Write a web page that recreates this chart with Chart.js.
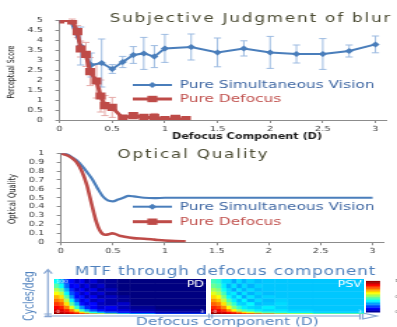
<!DOCTYPE html>
<html>
<head>
<meta charset="utf-8">
<title>Subjective Judgment of blur</title>
<script src="https://cdn.jsdelivr.net/npm/chart.js@4.4.0/dist/chart.umd.min.js"></script>
<style>
  html, body { margin: 0; padding: 0; background: #fff; }
  #page { position: relative; width: 397px; height: 327px; overflow: hidden; }
  canvas { position: absolute; }
  /* the maps in the original are smooth images, soften the cell edges a bit */
  #mtfPD, #mtfPSV { filter: blur(0.7px); }
</style>
</head>
<body>
<div id="page">
  <!-- the original figure is stretched sideways, so every canvas is drawn narrow and widened by css -->
  <canvas id="mtfAxes" width="284" height="72" style="left:0;top:255px;width:397px;height:72px"></canvas>
  <canvas id="blur" width="284" height="142" style="left:0;top:0;width:397px;height:142px"></canvas>
  <canvas id="quality" width="284" height="118" style="left:0;top:140px;width:397px;height:118px"></canvas>
  <canvas id="mtfPD" width="109" height="35" style="left:54px;top:279px;width:152px;height:35px"></canvas>
  <canvas id="mtfPSV" width="109" height="35" style="left:211px;top:279px;width:153px;height:35px"></canvas>
  <canvas id="colorbar" width="22" height="41" style="left:366px;top:276px;width:31px;height:41px"></canvas>
</div>
<script>
// ---- subjective judgment of blur (perceptual score) ----
const psvX = [0, 0.1, 0.2, 0.3, 0.4, 0.5, 0.6, 0.7, 0.8, 0.9, 1, 1.25, 1.5, 1.75, 2, 2.25, 2.5, 2.75, 3];
const psvScore = [5, 5, 3.7, 2.75, 2.85, 2.55, 2.9, 3.25, 3.33, 3.17, 3.58, 3.65, 3.38, 3.58, 3.38, 3.3, 3.3, 3.45, 3.78];
const psvErr = [0, 0, 0.95, 0.6, 1.2, 0.22, 0.28, 0.42, 0.8, 0.55, 0.7, 0.65, 0.72, 0.38, 0.8, 0.45, 0.77, 0.3, 0.42];
const pdX = [0, 0.12, 0.17, 0.2, 0.25, 0.29, 0.35, 0.39, 0.43, 0.5, 0.6, 0.7, 0.8, 0.9, 1, 1.1, 1.2];
const pdScore = [5, 4.95, 4.42, 3.55, 3.28, 2.42, 1.95, 1.2, 0.72, 0.63, 0.1, 0.22, 0.13, 0.13, 0.02, 0.08, 0.02];
const pdErr = [0, 0.1, 0.3, 0.4, 0.6, 0.7, 0.85, 0.8, 0.5, 0.5, 0.12, 0.15, 0.1, 0.2, 0.05, 0.1, 0.05];
const defocusTicks = [0, 0.5, 1, 1.5, 2, 2.5, 3];
const scoreTicks = [0, 0.5, 1, 1.5, 2, 2.5, 3, 3.5, 4, 4.5, 5];

// ---- optical quality ----
const oqPsvX = [0, 0.05, 0.1, 0.15, 0.2, 0.25, 0.3, 0.35, 0.4, 0.45, 0.5, 0.55, 0.6, 0.65, 0.7, 0.8, 0.9, 1, 1.5, 2, 2.5, 3];
const oqPsv = [1, 0.99, 0.96, 0.92, 0.86, 0.79, 0.71, 0.61, 0.52, 0.47, 0.46, 0.48, 0.5, 0.52, 0.515, 0.5, 0.495, 0.5, 0.5, 0.5, 0.5, 0.5];
const oqPdX = [0, 0.05, 0.1, 0.15, 0.2, 0.25, 0.28, 0.31, 0.34, 0.37, 0.4, 0.43, 0.46, 0.49, 0.52, 0.56, 0.6, 0.7, 0.8, 0.9, 1, 1.1, 1.2];
const oqPd = [1, 0.98, 0.95, 0.9, 0.8, 0.64, 0.5, 0.36, 0.23, 0.14, 0.095, 0.085, 0.09, 0.1, 0.095, 0.075, 0.065, 0.047, 0.04, 0.03, 0.02, 0.013, 0.01];
const qualityTicks = [0, 0.1, 0.2, 0.3, 0.4, 0.5, 0.6, 0.7, 0.8, 0.9, 1];

// ---- MTF through defocus (rows = cycles/deg bands from 0 up, cols = defocus bands) ----
const defocusEdges = [0, 0.1, 0.2, 0.3, 0.4, 0.5, 0.6, 0.7, 0.85, 1, 1.25, 1.5, 2, 3];
const freqEdges = [0, 3, 8, 15, 25, 35, 45, 55, 65, 75, 88, 100];
const mtfPD = [
  [1.0, 0.98, 0.96, 0.93, 0.9, 0.86, 0.8, 0.72, 0.62, 0.52, 0.42, 0.32, 0.2],
  [0.95, 0.93, 0.9, 0.85, 0.78, 0.66, 0.52, 0.4, 0.3, 0.22, 0.15, 0.1, 0.05],
  [0.92, 0.9, 0.85, 0.75, 0.6, 0.42, 0.3, 0.2, 0.14, 0.1, 0.09, 0.04, 0.02],
  [0.88, 0.85, 0.75, 0.6, 0.42, 0.27, 0.16, 0.12, 0.08, 0.11, 0.05, 0.02, 0],
  [0.82, 0.78, 0.65, 0.46, 0.3, 0.14, 0.1, 0.13, 0.06, 0.04, 0.07, 0, 0],
  [0.76, 0.72, 0.56, 0.36, 0.2, 0.1, 0.14, 0.06, 0.09, 0.04, 0.02, 0, 0],
  [0.7, 0.65, 0.46, 0.27, 0.13, 0.14, 0.06, 0.11, 0.04, 0.06, 0.02, 0, 0],
  [0.62, 0.56, 0.37, 0.2, 0.14, 0.07, 0.12, 0.05, 0.08, 0.02, 0, 0, 0],
  [0.55, 0.47, 0.3, 0.16, 0.08, 0.12, 0.05, 0.1, 0.03, 0.05, 0, 0, 0],
  [0.46, 0.38, 0.23, 0.11, 0.13, 0.06, 0.1, 0.04, 0.07, 0.02, 0, 0, 0],
  [0.38, 0.3, 0.18, 0.13, 0.07, 0.11, 0.04, 0.08, 0.03, 0.02, 0, 0, 0]
];
const mtfPSV = [
  [1.0, 0.98, 0.96, 0.94, 0.92, 0.9, 0.87, 0.84, 0.8, 0.75, 0.68, 0.6, 0.5],
  [0.95, 0.93, 0.91, 0.87, 0.82, 0.75, 0.66, 0.58, 0.5, 0.44, 0.4, 0.36, 0.34],
  [0.9, 0.88, 0.83, 0.74, 0.63, 0.52, 0.44, 0.4, 0.36, 0.34, 0.35, 0.33, 0.32],
  [0.84, 0.81, 0.74, 0.62, 0.5, 0.42, 0.36, 0.34, 0.33, 0.36, 0.33, 0.32, 0.32],
  [0.78, 0.75, 0.65, 0.52, 0.42, 0.34, 0.33, 0.37, 0.31, 0.32, 0.34, 0.32, 0.32],
  [0.72, 0.68, 0.57, 0.45, 0.36, 0.31, 0.37, 0.3, 0.34, 0.31, 0.33, 0.32, 0.32],
  [0.66, 0.62, 0.5, 0.38, 0.32, 0.37, 0.29, 0.35, 0.31, 0.33, 0.32, 0.32, 0.32],
  [0.6, 0.55, 0.44, 0.34, 0.36, 0.29, 0.35, 0.3, 0.33, 0.31, 0.32, 0.32, 0.32],
  [0.54, 0.5, 0.39, 0.34, 0.29, 0.35, 0.3, 0.34, 0.31, 0.32, 0.32, 0.32, 0.32],
  [0.48, 0.45, 0.36, 0.3, 0.35, 0.29, 0.34, 0.3, 0.33, 0.32, 0.32, 0.32, 0.32],
  [0.44, 0.42, 0.34, 0.34, 0.29, 0.34, 0.3, 0.33, 0.31, 0.32, 0.32, 0.32, 0.32]
];
const colorbarLevels = [0, 0.05, 0.1, 0.15, 0.2, 0.25, 0.3, 0.35, 0.4, 0.45, 0.5, 0.55, 0.6, 0.65, 0.7, 0.75, 0.8, 0.85, 0.9, 0.95, 1];
const colorbarTicks = [0, 0.5, 1];

const blue = '#4a7ebb';
const red = '#be4b48';
const textBlue = '#3f67a3';
const mtfBlue = '#4f81bd';
const tickFont = { family: 'DejaVu Sans', size: 7 };
const narrow = '"Liberation Sans Narrow", "DejaVu Sans Condensed", sans-serif';

let toPoints = (xs, ys) => xs.map((x, i) => ({ x: x, y: ys[i] }));

// jet colour map, 0 = dark blue, 1 = dark red
let jet = (v) => {
  let c = (t) => Math.round(255 * Math.max(0, Math.min(1, 1.5 - Math.abs(4 * v - t))));
  return `rgb(${c(3)},${c(2)},${c(1)})`;
};

let drawText = (ctx, t) => {
  ctx.save();
  ctx.font = t.font;
  ctx.fillStyle = t.color;
  ctx.textAlign = t.align || 'center';
  ctx.textBaseline = 'middle';
  ctx.letterSpacing = t.spacing || '0px';
  ctx.translate(t.x, t.y);
  if (t.rotate) ctx.rotate(t.rotate);
  ctx.fillText(t.text, 0, 0);
  ctx.restore();
};

// vertical error bars with caps, under the lines
const errorBars = {
  id: 'errorBars',
  beforeDatasetsDraw(chart) {
    const ctx = chart.ctx, xs = chart.scales.x, ys = chart.scales.y, area = chart.chartArea;
    ctx.save();
    ctx.beginPath();
    ctx.rect(area.left, area.top - 2, area.right - area.left, area.bottom - area.top + 2);
    ctx.clip();
    chart.data.datasets.forEach((ds) => {
      if (!ds.errors) return;
      ctx.strokeStyle = ds.errorColor;
      ctx.lineWidth = 1;
      ds.data.forEach((p, i) => {
        const e = ds.errors[i];
        if (!e) return;
        const px = xs.getPixelForValue(p.x);
        const top = ys.getPixelForValue(p.y + e);
        const bot = ys.getPixelForValue(p.y - e);
        ctx.beginPath();
        ctx.moveTo(px, top); ctx.lineTo(px, bot);
        ctx.moveTo(px - 2.6, top); ctx.lineTo(px + 2.6, top);
        ctx.moveTo(px - 2.6, bot); ctx.lineTo(px + 2.6, bot);
        ctx.stroke();
      });
    });
    ctx.restore();
  }
};

// titles and the legend drawn inside the plot like in excel
let overlay = (texts, legend) => ({
  id: 'overlay',
  afterDraw(chart) {
    const ctx = chart.ctx;
    texts.forEach((t) => drawText(ctx, t));
    legend.forEach((item) => {
      ctx.save();
      ctx.strokeStyle = item.color;
      ctx.lineWidth = item.width;
      ctx.beginPath();
      ctx.moveTo(95, item.y);
      ctx.lineTo(123, item.y);
      ctx.stroke();
      ctx.fillStyle = item.color;
      if (item.marker === 'diamond') {
        ctx.beginPath();
        ctx.moveTo(109 - 3, item.y);
        ctx.lineTo(109, item.y - 3);
        ctx.lineTo(109 + 3, item.y);
        ctx.lineTo(109, item.y + 3);
        ctx.closePath();
        ctx.fill();
      } else {
        ctx.fillRect(109 - 3.6, item.y - 3.2, 7.2, 6.4);
      }
      ctx.restore();
      drawText(ctx, { text: item.text, x: 128.6, y: item.y, align: 'left', font: '11px "DejaVu Sans"', color: item.textColor });
    });
  }
});

let axis = (ticks, min, max, fit, isX) => ({
  type: 'linear',
  min: min,
  max: max,
  afterBuildTicks: (s) => { s.ticks = ticks.map((v) => ({ value: v })); },
  afterFit: (s) => { if (isX) s.height = fit; else s.width = fit; },
  ticks: { font: tickFont, color: '#3a3a3a', padding: isX ? 2 : 9, autoSkip: false, maxRotation: 0, callback: (v) => String(v) },
  grid: { drawOnChartArea: false, drawTicks: true, tickLength: 3, color: '#8c8c8c' },
  border: { color: '#8c8c8c' }
});

let baseOptions = (padding, scales) => ({
  responsive: false,
  animation: false,
  events: [],
  layout: { padding: padding },
  plugins: { legend: { display: false }, tooltip: { enabled: false } },
  scales: scales
});

// top: subjective judgment
new Chart(document.getElementById('blur'), {
  type: 'scatter',
  data: {
    datasets: [
      { label: 'Pure Defocus', data: toPoints(pdX, pdScore), errors: pdErr, errorColor: '#e6aaa8', showLine: true,
        borderColor: red, backgroundColor: red, borderWidth: 3, pointStyle: 'rect', pointRadius: 5, pointBorderWidth: 0 },
      { label: 'Pure Simultaneous Vision', data: toPoints(psvX, psvScore), errors: psvErr, errorColor: '#9dbbe1', showLine: true,
        borderColor: blue, backgroundColor: blue, borderWidth: 2, pointStyle: 'rectRot', pointRadius: 3, pointBorderWidth: 0 }
    ]
  },
  options: baseOptions({ top: 20, right: 7.9, bottom: 0, left: 0 }, {
    x: axis(defocusTicks, 0, 3.1, 22, true),
    y: axis(scoreTicks, 0, 5, 42.6, false)
  }),
  plugins: [errorBars, overlay([
    { text: 'Subjective Judgment of blur', x: 179.5, y: 19, font: '12px "DejaVu Sans"', spacing: '1.3px', color: '#4b4b33' },
    { text: 'Perceptual Score', x: 8.2, y: 72, rotate: -Math.PI / 2, font: `7px ${narrow}`, color: '#1a1a1a' },
    { text: 'Defocus Component (D)', x: 176.7, y: 136.5, font: 'bold 8px "DejaVu Sans"', color: '#1a1a1a' }
  ], [
    { y: 85, color: blue, width: 2, marker: 'diamond', text: 'Pure Simultaneous Vision', textColor: textBlue },
    { y: 99, color: red, width: 3, marker: 'square', text: 'Pure Defocus', textColor: '#c0504d' }
  ])]
});

// middle: optical quality
new Chart(document.getElementById('quality'), {
  type: 'scatter',
  data: {
    datasets: [
      { label: 'Pure Defocus', data: toPoints(oqPdX, oqPd), showLine: true, borderColor: red, borderWidth: 2.6,
        pointRadius: 0, cubicInterpolationMode: 'monotone' },
      { label: 'Pure Simultaneous Vision', data: toPoints(oqPsvX, oqPsv), showLine: true, borderColor: blue, borderWidth: 2.2,
        pointRadius: 0, cubicInterpolationMode: 'monotone' }
    ]
  },
  options: baseOptions({ top: 4.5, right: 10, bottom: 0, left: 0 }, {
    x: axis(defocusTicks, 0, 3.1, 15.7, true),
    y: axis(qualityTicks, 0, 1, 43.6, false)
  }),
  plugins: [overlay([
    { text: 'Optical Quality', x: 138.4, y: 15, font: '12px "DejaVu Sans"', spacing: '1.3px', color: '#4b4b33' },
    { text: 'Optical Quality', x: 8.9, y: 59, rotate: -Math.PI / 2, font: `7.5px ${narrow}`, color: '#1a1a1a' }
  ], [
    { y: 66.7, color: blue, width: 2, marker: 'diamond', text: 'Pure Simultaneous Vision', textColor: textBlue },
    { y: 81.7, color: red, width: 3, marker: 'square', text: 'Pure Defocus', textColor: '#c0504d' }
  ])]
});

// MTF maps: every cell is placed through the chart scales
let heatmap = (name) => ({
  id: 'heatmap',
  beforeDatasetsDraw(chart) {
    const ctx = chart.ctx, xs = chart.scales.x, ys = chart.scales.y;
    const grid = chart.data.datasets[0].grid;
    grid.forEach((row, i) => row.forEach((v, j) => {
      const x0 = xs.getPixelForValue(defocusEdges[j]);
      const x1 = xs.getPixelForValue(defocusEdges[j + 1]);
      const y0 = ys.getPixelForValue(freqEdges[i + 1]);
      const y1 = ys.getPixelForValue(freqEdges[i]);
      ctx.fillStyle = jet(v);
      ctx.fillRect(x0, y0, x1 - x0 + 0.4, y1 - y0 + 0.4);
    }));
  },
  afterDraw(chart) {
    const ctx = chart.ctx, xs = chart.scales.x, ys = chart.scales.y;
    const small = '4.5px "DejaVu Sans"', faint = 'rgba(255,255,255,0.8)';
    drawText(ctx, { text: '0', x: xs.getPixelForValue(0) + 1.5, y: ys.getPixelForValue(0) - 2.6, align: 'left', font: small, color: faint });
    drawText(ctx, { text: '3', x: xs.getPixelForValue(3) - 1.5, y: ys.getPixelForValue(0) - 2.6, align: 'right', font: small, color: faint });
    if (name === 'PD') {
      drawText(ctx, { text: '100', x: xs.getPixelForValue(0) + 1.5, y: ys.getPixelForValue(100) + 2.4, align: 'left', font: small, color: faint });
    }
    drawText(ctx, { text: name, x: xs.getPixelForValue(3) - 1.5, y: 5.5, align: 'right', font: '9px "DejaVu Sans"', color: '#ffffff' });
  }
});

let mtfChart = (id, grid, name) => new Chart(document.getElementById(id), {
  type: 'scatter',
  data: { datasets: [{ data: [], grid: grid }] },
  options: baseOptions(0, {
    x: { type: 'linear', min: 0, max: 3, display: false },
    y: { type: 'linear', min: 0, max: 100, display: false }
  }),
  plugins: [heatmap(name)]
});
mtfChart('mtfPD', mtfPD, 'PD');
mtfChart('mtfPSV', mtfPSV, 'PSV');

// colour bar
new Chart(document.getElementById('colorbar'), {
  type: 'scatter',
  data: { datasets: [{ data: [], levels: colorbarLevels }] },
  options: baseOptions({ top: 3, bottom: 3, left: 0, right: 0 }, {
    x: { type: 'linear', min: 0, max: 1, display: false },
    y: {
      type: 'linear', position: 'right', min: 0, max: 1,
      afterBuildTicks: (s) => { s.ticks = colorbarTicks.map((v) => ({ value: v })); },
      afterFit: (s) => { s.width = 12; },
      ticks: { font: { family: 'DejaVu Sans', size: 4 }, color: '#666', padding: 2.5, callback: (v) => String(v) },
      grid: { display: false },
      border: { display: false }
    }
  }),
  plugins: [{
    id: 'colorbar',
    beforeDatasetsDraw(chart) {
      const ctx = chart.ctx, ys = chart.scales.y, area = chart.chartArea;
      const levels = chart.data.datasets[0].levels;
      for (let i = 0; i < levels.length - 1; i++) {
        const top = ys.getPixelForValue(levels[i + 1]);
        const bot = ys.getPixelForValue(levels[i]);
        ctx.fillStyle = jet((levels[i] + levels[i + 1]) / 2);
        ctx.fillRect(area.left, top, area.right - area.left, bot - top + 0.4);
      }
    }
  }]
});

// arrows and labels around the MTF maps
let drawMtfAxes = () => {
  const ctx = document.getElementById('mtfAxes').getContext('2d');
  drawText(ctx, { text: 'MTF through defocus component', x: 53.6, y: 17, align: 'left', font: '12px "DejaVu Sans"', spacing: '0.6px', color: mtfBlue });
  drawText(ctx, { text: 'Cycles/deg', x: 21.1, y: 41, rotate: -Math.PI / 2, font: `10px ${narrow}`, color: mtfBlue });
  drawText(ctx, { text: 'Defocus component (D)', x: 162.7, y: 67.3, font: '11px "DejaVu Sans"', color: mtfBlue });
  ctx.strokeStyle = '#86a5d2';
  ctx.lineWidth = 1.2;
  ctx.beginPath();
  // up arrow
  ctx.moveTo(34.3, 14.5); ctx.lineTo(34.3, 61.5);
  ctx.moveTo(31.4, 18.6); ctx.lineTo(34.3, 14.5); ctx.lineTo(37.2, 18.6);
  ctx.moveTo(31.6, 59); ctx.lineTo(37, 59);
  ctx.moveTo(31.6, 61.6); ctx.lineTo(37, 61.6);
  // right arrow
  ctx.moveTo(32, 61); ctx.lineTo(258, 61);
  ctx.moveTo(149.5, 58.5); ctx.lineTo(149.5, 63.5);
  ctx.moveTo(151.7, 58.5); ctx.lineTo(151.7, 63.5);
  ctx.moveTo(257.5, 57.6); ctx.lineTo(257.5, 64.4);
  ctx.moveTo(259.5, 58); ctx.lineTo(269.5, 61); ctx.lineTo(259.5, 64); ctx.closePath();
  ctx.stroke();
};
drawMtfAxes();
</script>
</body>
</html>
